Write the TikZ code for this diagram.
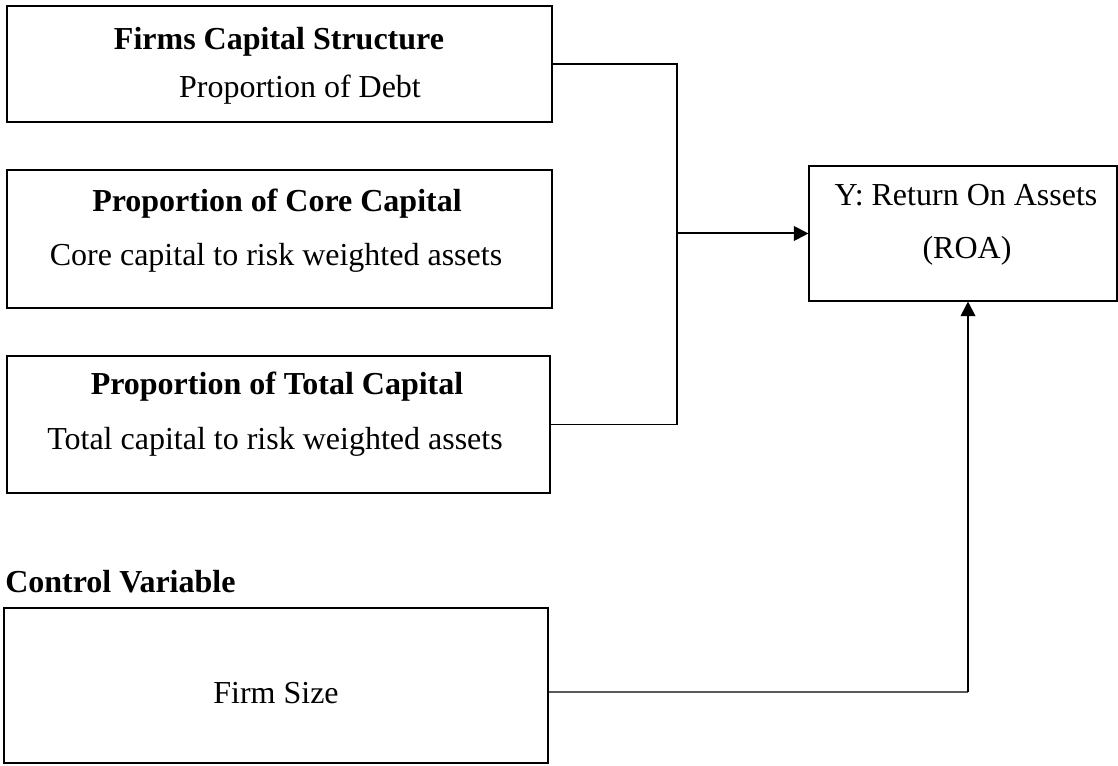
\documentclass[tikz,border=0pt]{standalone}
\usepackage{fontspec}
\setmainfont{Liberation Serif}
\usepackage{tikz}
\usetikzlibrary{arrows.meta,calc,positioning}
\tikzset{%
	varbox/.style  = {draw, rectangle, line width=0.8pt, inner sep=0pt},
	head/.style    = {font=\fontsize{24pt}{28pt}\selectfont\bfseries, inner sep=0pt, anchor=base},
	label/.style   = {font=\fontsize{24pt}{28pt}\selectfont, inner sep=0pt, anchor=base},
	link/.style    = {line width=0.9pt},
	arrow/.style   = {line width=1.5pt,-{Triangle[length=11pt,width=11pt]}},
}
\begin{document}
\begin{tikzpicture}[x=0.75pt,y=-0.75pt]
		\useasboundingbox (0,0) rectangle (1118,766);
		% independent variables
		\node[varbox, minimum width=408.75pt, minimum height=87pt]     (capstr) at (279.5,64) {};
		\node[varbox, minimum width=408.75pt, minimum height=103.5pt]  (core)   at (279.5,239) {};
		\node[varbox, minimum width=407.25pt, minimum height=102.75pt] (total)  at (278.5,424.5) {};
		
		\node[head]  (capstrhead) at (279,50)  {Firms Capital Structure};
		\node[label] (capstrtext) at (300,98)  {Proportion of Debt};
		\node[head]  (corehead)   at (277,212) {Proportion of Core Capital};
		\node[label] (coretext)   at (276,266) {Core capital to risk weighted assets};
		\node[head]  (totalhead)  at (277,395) {Proportion of Total Capital};
		\node[label] (totaltext)  at (275,450) {Total capital to risk weighted assets};
		
		% dependent variable
		\node[varbox, minimum width=231pt, minimum height=101.25pt] (roa) at (963,233.5) {};
		\node[label] (roatext)  at (966,206) {Y: Return On Assets};
		\node[label] (roashort) at (967,259) {(ROA)};
		
		% control variable
		\node[head, anchor=base west] (ctrlhead) at (5,592) {Control Variable};
		\node[varbox, minimum width=408pt, minimum height=116.25pt] (size) at (276,685.5) {};
		\node[label] (sizetext) at (276,703) {Firm Size};
		
		% connectors
		\coordinate (bus) at (677,233.5);
		\coordinate (rise) at (968,692);
		\draw[link] (capstr.east) -| (bus |- total.east) -- (total.east);
		\draw[arrow] (bus) -- (roa.west);
		\draw[link] ([yshift=-4.9pt]size.east) -- (rise);
		\draw[arrow] (rise) -- (rise |- roa.south);
		
\end{tikzpicture}
\end{document}
